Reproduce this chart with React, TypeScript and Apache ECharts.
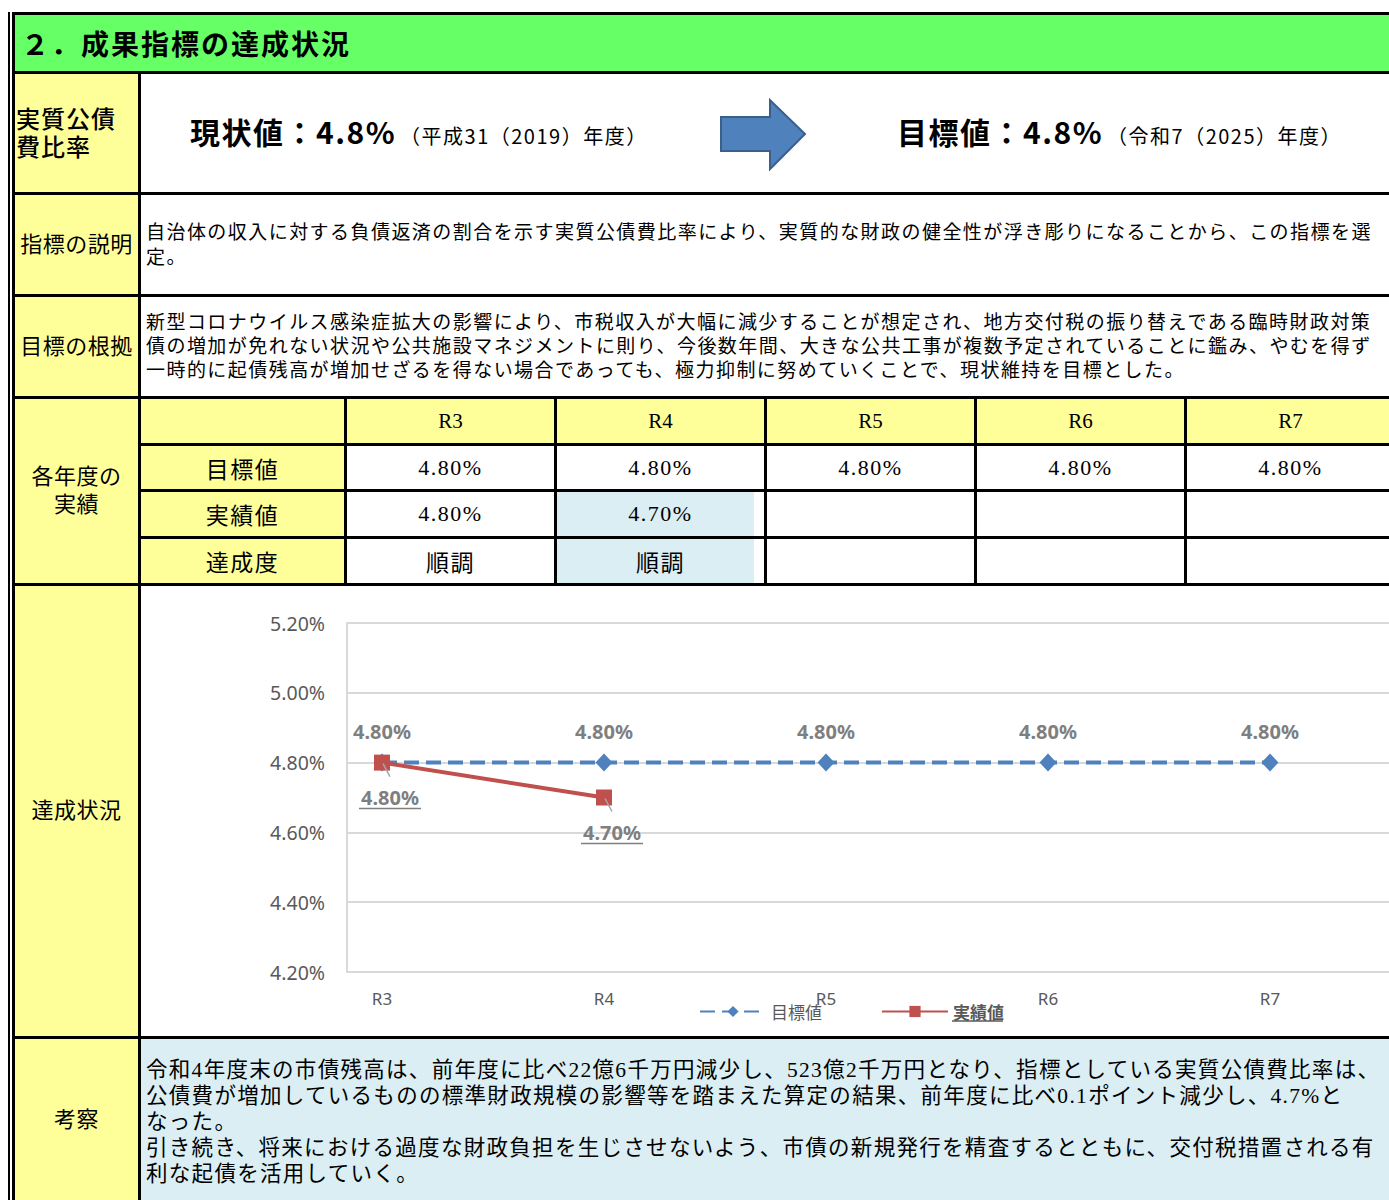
import React, { useEffect, useRef } from 'react';
import * as echarts from 'echarts';

// ---------- data ----------
const categories = ['R3', 'R4', 'R5', 'R6', 'R7'];
const targetValues = [4.8, 4.8, 4.8, 4.8, 4.8];
const actualValues: (number | null)[] = [4.8, 4.7, null, null, null];
const achievementLabels = ['順調', '順調', '', '', ''];
const seriesNames = ['目標値', '実績値'];
const tableRowLabels = ['目標値', '実績値', '達成度'];
const yAxisMin = 4.2;
const yAxisMax = 5.2;
const yAxisStep = 0.2;
const currentValue = 4.8;
const goalValue = 4.8;

const titleText = '２．成果指標の達成状況';
const indicatorName = ['実質公債', '費比率'];
const currentLabel = '現状値：';
const currentNote = '（平成31（2019）年度）';
const goalLabel = '目標値：';
const goalNote = '（令和7（2025）年度）';
const sideLabels = ['指標の説明', '目標の根拠', '各年度の\n実績', '達成状況', '考察'];
const explanationLines = [
  '自治体の収入に対する負債返済の割合を示す実質公債費比率により、実質的な財政の健全性が浮き彫りになることから、この指標を選',
  '定。',
];
const basisLines = [
  '新型コロナウイルス感染症拡大の影響により、市税収入が大幅に減少することが想定され、地方交付税の振り替えである臨時財政対策',
  '債の増加が免れない状況や公共施設マネジメントに則り、今後数年間、大きな公共工事が複数予定されていることに鑑み、やむを得ず',
  '一時的に起債残高が増加せざるを得ない場合であっても、極力抑制に努めていくことで、現状維持を目標とした。',
];
const reviewLines = [
  '令和4年度末の市債残高は、前年度に比べ22億6千万円減少し、523億2千万円となり、指標としている実質公債費比率は、',
  '公債費が増加しているものの標準財政規模の影響等を踏まえた算定の結果、前年度に比べ0.1ポイント減少し、4.7%と',
  'なった。',
  '引き続き、将来における過度な財政負担を生じさせないよう、市債の新規発行を精査するとともに、交付税措置される有',
  '利な起債を活用していく。',
];

// ---------- styles ----------
const GOTHIC = "'Noto Sans CJK JP', sans-serif";
const MINCHO = "'Liberation Serif', 'Noto Sans CJK JP', serif";
const YELLOW = '#FFFF99';
const GREEN = '#66FF66';
const PALE_BLUE = '#DAEEF3';
const BLUE = '#4F81BD';
const RED = '#C0504D';
const LABEL_GRAY = '#7F7F7F';
const AXIS_GRAY = '#595959';
const GRID_GRAY = '#D9D9D9';

const fmtPct = (v: number) => v.toFixed(2) + '%';

const lastActualIndex = actualValues.reduce<number>((acc, v, i) => (v != null ? i : acc), -1);
const actualLabelData = actualValues.flatMap((v, i) => (v == null ? [] : [[i, v]]));

const Rect = ({ x, y, w, h, bg }: any) => (
  <div style={{ position: 'absolute', left: x, top: y, width: w, height: h, background: bg }} />
);

const Cell = ({ x, y, w, h, children, style }: any) => (
  <div
    style={{
      position: 'absolute', left: x, top: y, width: w, height: h, display: 'flex',
      alignItems: 'center', justifyContent: 'center', overflow: 'hidden', whiteSpace: 'pre', ...style,
    }}
  >
    {children}
  </div>
);

const Para = ({ y, h, lines, size, spacing, lh }: any) => (
  <div
    style={{
      position: 'absolute', left: 146, top: y, width: 1243, height: h, display: 'flex',
      alignItems: 'center', overflow: 'hidden',
    }}
  >
    <div style={{ whiteSpace: 'pre', fontFamily: MINCHO, fontSize: size, letterSpacing: spacing, lineHeight: lh + 'px', color: '#000' }}>
      {lines.join('\n')}
    </div>
  </div>
);

export default function App() {
  const ref = useRef<HTMLDivElement>(null);

  useEffect(() => {
    if (!ref.current) return;
    const chart = echarts.init(ref.current, null, { renderer: 'svg' });
    const option: any = {
      animation: false,
      textStyle: { fontFamily: "'Noto Sans', 'Noto Sans CJK JP', sans-serif" },
      legend: {
        data: [
          { name: seriesNames[0] },
          { name: seriesNames[1], textStyle: { fontWeight: 'bold', color: AXIS_GRAY } },
        ],
        left: 553,
        top: 412,
        itemWidth: 66,
        itemHeight: 14,
        itemGap: 59,
        textStyle: { color: AXIS_GRAY, fontSize: 17, fontFamily: GOTHIC },
      },
      grid: [
        { left: 206, top: 37, right: 0, height: 349 },
        { left: 241, top: 37, width: 888, height: 349 },
      ],
      xAxis: [
        { type: 'value', gridIndex: 0, show: false, min: 0, max: 1 },
        {
          type: 'category', gridIndex: 1, data: categories, boundaryGap: false,
          axisLine: { show: false }, axisTick: { show: false }, splitLine: { show: false },
          axisLabel: { color: AXIS_GRAY, fontSize: 17, margin: 18 },
        },
      ],
      yAxis: [
        {
          type: 'value', gridIndex: 0, min: yAxisMin, max: yAxisMax, interval: yAxisStep,
          axisLine: { show: true, lineStyle: { color: GRID_GRAY, width: 2 } },
          axisTick: { show: false },
          splitLine: { show: true, lineStyle: { color: GRID_GRAY, width: 2 } },
          axisLabel: { color: AXIS_GRAY, fontSize: 19.5, margin: 22, formatter: (v: number) => fmtPct(v) },
        },
        { type: 'value', gridIndex: 1, min: yAxisMin, max: yAxisMax, interval: yAxisStep, show: false },
      ],
      graphic: [
        { type: 'line', shape: { x1: 811, y1: 435, x2: 862, y2: 435 }, style: { stroke: AXIS_GRAY, lineWidth: 1.5 } },
      ],
      series: [
        {
          name: seriesNames[0], type: 'line', xAxisIndex: 1, yAxisIndex: 1, data: targetValues,
          symbol: 'diamond', symbolSize: [17, 18], z: 2,
          itemStyle: { color: BLUE },
          lineStyle: { color: BLUE, width: 4, type: [15, 7] },
          label: {
            show: true, position: 'top', distance: 12, color: LABEL_GRAY, fontWeight: 'bold', fontSize: 20,
            formatter: (p: any) => fmtPct(p.value),
          },
        },
        {
          name: seriesNames[1], type: 'line', xAxisIndex: 1, yAxisIndex: 1, data: actualValues,
          symbol: 'rect', symbolSize: 16, z: 3,
          itemStyle: { color: RED },
          lineStyle: { color: RED, width: 4 },
        },
        {
          type: 'custom', xAxisIndex: 1, yAxisIndex: 1, data: actualLabelData, z: 4, silent: true,
          renderItem: (_params: any, api: any) => {
            const v = api.value(1) as number;
            const p = api.coord([api.value(0), v]);
            const tx = p[0] + 8;
            const ty = p[1] + 35;
            return {
              type: 'group',
              children: [
                { type: 'line', shape: { x1: p[0] + 1, y1: p[1] + 1, x2: p[0] + 8, y2: p[1] + 14 }, style: { stroke: '#A6A6A6', lineWidth: 1.5 } },
                {
                  type: 'text', x: tx, y: ty,
                  style: { text: fmtPct(v), fill: LABEL_GRAY, font: "bold 20px 'Noto Sans', sans-serif", align: 'center', verticalAlign: 'middle' },
                },
                { type: 'line', shape: { x1: tx - 31, y1: ty + 11, x2: tx + 31, y2: ty + 11 }, style: { stroke: LABEL_GRAY, lineWidth: 1.5 } },
              ],
            };
          },
        },
      ],
    };
    chart.setOption(option);
    return () => chart.dispose();
  }, []);

  const colX = [347, 557, 767, 977, 1187];
  const colW = 207;
  const rowY = [399, 446, 492, 539];
  const rowH = [44, 43, 44, 44];

  const hRules = [12, 71, 192, 294, 396, 583, 1036];
  const tableHRules = [443, 489, 536];
  const tableVRules = [344, 554, 764, 974, 1184];

  return (
    <div style={{ position: 'absolute', left: 0, top: 0, width: 1389, height: 1200, overflow: 'hidden', background: '#fff' }}>
      {/* backgrounds */}
      <Rect x={15} y={15} w={1374} h={56} bg={GREEN} />
      <Rect x={15} y={74} w={123} h={1126} bg={YELLOW} />
      <Rect x={141} y={399} w={1248} h={44} bg={YELLOW} />
      <Rect x={141} y={446} w={203} h={137} bg={YELLOW} />
      {lastActualIndex >= 0 && (
        <>
          <Rect x={colX[lastActualIndex]} y={rowY[2]} w={197} h={rowH[2]} bg={PALE_BLUE} />
          <Rect x={colX[lastActualIndex]} y={rowY[3]} w={197} h={rowH[3]} bg={PALE_BLUE} />
        </>
      )}
      <Rect x={141} y={1039} w={1248} h={161} bg={PALE_BLUE} />

      {/* rules */}
      <Rect x={8} y={12} w={1.5} h={1188} bg="#000" />
      <Rect x={12} y={12} w={3} h={1188} bg="#000" />
      {hRules.map((y) => <Rect key={'h' + y} x={12} y={y} w={1377} h={3} bg="#000" />)}
      <Rect x={138} y={71} w={3} h={1129} bg="#000" />
      {tableHRules.map((y) => <Rect key={'th' + y} x={141} y={y} w={1248} h={3} bg="#000" />)}
      {tableVRules.map((x) => <Rect key={'tv' + x} x={x} y={396} w={3} h={190} bg="#000" />)}

      {/* title */}
      <div style={{ position: 'absolute', left: 21, top: 15, height: 56, display: 'flex', alignItems: 'center', fontFamily: GOTHIC, fontWeight: 700, fontSize: 28, letterSpacing: 2, color: '#000', whiteSpace: 'pre' }}>
        {titleText}
      </div>

      {/* row 1 */}
      <div style={{ position: 'absolute', left: 16, top: 104, fontFamily: GOTHIC, fontWeight: 500, fontSize: 24, letterSpacing: 1, lineHeight: '28px', whiteSpace: 'pre', color: '#000' }}>
        {indicatorName.join('\n')}
      </div>
      <div style={{ position: 'absolute', left: 190, top: 109, height: 42, display: 'flex', alignItems: 'baseline', fontFamily: GOTHIC, color: '#000', whiteSpace: 'pre' }}>
        <span style={{ fontSize: 30, fontWeight: 700, letterSpacing: 1.5 }}>{currentLabel + currentValue.toFixed(1) + '%'}</span>
        <span style={{ fontSize: 20, marginLeft: 4, letterSpacing: 1.5 }}>{currentNote}</span>
      </div>
      <svg style={{ position: 'absolute', left: 715, top: 95 }} width={100} height={80}>
        <polygon points="6,22 55,22 55,5 90,39 55,74 55,56 6,56" fill={BLUE} stroke="#3A5F8B" strokeWidth={2} />
      </svg>
      <div style={{ position: 'absolute', left: 897, top: 109, height: 42, display: 'flex', alignItems: 'baseline', fontFamily: GOTHIC, color: '#000', whiteSpace: 'pre' }}>
        <span style={{ fontSize: 30, fontWeight: 700, letterSpacing: 1.5 }}>{goalLabel + goalValue.toFixed(1) + '%'}</span>
        <span style={{ fontSize: 20, marginLeft: 4, letterSpacing: 1.5 }}>{goalNote}</span>
      </div>

      {/* side labels */}
      {[[195, 99], [297, 99], [399, 184], [586, 450], [1039, 161]].map(([y, h], i) => (
        <Cell key={'side' + i} x={15} y={y} w={123} h={h} style={{ fontFamily: MINCHO, fontSize: 22, lineHeight: '28px', textAlign: 'center', letterSpacing: 0.5 }}>
          {sideLabels[i]}
        </Cell>
      ))}

      {/* paragraphs */}
      <Para y={195} h={99} lines={explanationLines} size={19} spacing={1.45} lh={25} />
      <Para y={297} h={99} lines={basisLines} size={19} spacing={1.45} lh={24} />
      <Para y={1039} h={165} lines={reviewLines} size={21.5} spacing={1.3} lh={26} />

      {/* yearly table */}
      {categories.map((c, i) => (
        <Cell key={'hd' + c} x={colX[i]} y={rowY[0]} w={colW} h={rowH[0]} style={{ fontFamily: MINCHO, fontSize: 21 }}>
          {c}
        </Cell>
      ))}
      {tableRowLabels.map((t, r) => (
        <Cell key={'rl' + t} x={141} y={rowY[r + 1]} w={203} h={rowH[r + 1]} style={{ fontFamily: MINCHO, fontSize: 23, letterSpacing: 1.5 }}>
          {t}
        </Cell>
      ))}
      {targetValues.map((v, i) => (
        <Cell key={'tv' + i} x={colX[i]} y={rowY[1]} w={colW} h={rowH[1]} style={{ fontFamily: MINCHO, fontSize: 22, letterSpacing: 1.5 }}>
          {fmtPct(v)}
        </Cell>
      ))}
      {actualValues.map((v, i) => (
        <Cell key={'av' + i} x={colX[i]} y={rowY[2]} w={colW} h={rowH[2]} style={{ fontFamily: MINCHO, fontSize: 22, letterSpacing: 1.5 }}>
          {v == null ? '' : fmtPct(v)}
        </Cell>
      ))}
      {achievementLabels.map((t, i) => (
        <Cell key={'ac' + i} x={colX[i]} y={rowY[3]} w={colW} h={rowH[3]} style={{ fontFamily: MINCHO, fontSize: 23, letterSpacing: 1.5 }}>
          {t}
        </Cell>
      ))}

      {/* chart */}
      <div ref={ref} style={{ position: 'absolute', left: 141, top: 586, width: 1248, height: 450 }} />
    </div>
  );
}
